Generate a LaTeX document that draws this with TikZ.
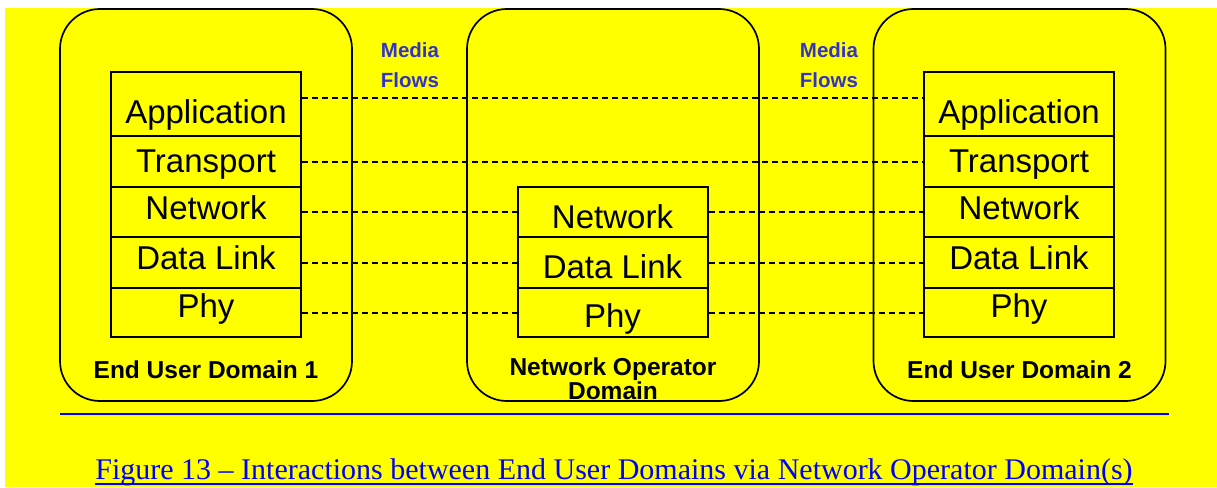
\documentclass[tikz,border=0pt]{standalone}
\usepackage{fontspec}
\setmainfont{Liberation Sans}
\newfontfamily\capfont{Liberation Serif}
\usepackage{xcolor}
\usetikzlibrary{positioning}
\definecolor{flowblue}{RGB}{51,51,204}
\definecolor{bgyellow}{RGB}{255,255,0}

\begin{document}
\begin{tikzpicture}[x=1pt,y=-1pt,
        domainbox/.style={draw, line width=1.7pt, rounded corners=40pt, minimum width=292pt, minimum height=392pt, inner sep=0pt},
        layerbox/.style={draw, line width=2pt, minimum width=190pt, inner sep=0pt, text depth=0pt, font=\fontsize{33}{38}\selectfont},
        flowline/.style={line width=2pt, dash pattern=on 6pt off 4pt},
        dlabel/.style={font=\bfseries\fontsize{24.5}{20}\selectfont, align=center, inner sep=0pt},
        mlabel/.style={text=flowblue, font=\bfseries\fontsize{20.5}{30}\selectfont, align=center, inner sep=0pt}]
        \useasboundingbox (0,0) rectangle (1217,487);
        \fill[bgyellow] (5,8) rectangle (1217,487);
        \foreach \x/\s in {206/1,613/0,1019.5/2}{\node[domainbox] (dom\s) at (\x,205) {};}
        \foreach \x/\s in {206/1,1019/2}{
            \foreach \y/\h/\th/\lay/\nm in {104/64/38/Application/a,161.5/51/21/Transport/t,212/50/14/Network/n,262.5/51/13/Data Link/d,312.5/49/9/Phy/p}
                {\node[layerbox, minimum height=\h pt, text height=\th pt] (\nm\s) at (\x,\y) {\lay};}
        }
        \foreach \y/\h/\th/\lay/\nm in {212/50/32/Network/n,262.5/51/31/Data Link/d,312.5/49/29/Phy/p}
            {\node[layerbox, minimum height=\h pt, text height=\th pt] (\nm0) at (612.5,\y) {\lay};}
       \draw[flowline] ([yshift=6pt]a1.east) -- ([yshift=6pt]a2.west);
       \draw[flowline] (t1.east) -- (t2.west);
       \foreach \nm in {n,d,p}{
           \draw[flowline] (\nm1.east) -- (\nm0.west);
           \draw[flowline] (\nm0.east) -- (\nm2.west);
       }
       \node[mlabel] (media1) at (410,65.5) {Media\\Flows};
       \node[mlabel] (media2) at (829,65.5) {Media\\Flows};
       \node[dlabel, anchor=base] (lbl1) at (206,378) {End User Domain 1};
       \node[dlabel] (lbl0) at (613,378.5) {Network Operator\\Domain};
       \node[dlabel, anchor=base] (lbl2) at (1019.5,378) {End User Domain 2};
       \draw[blue, line width=2pt] (60,414) -- (1169,414);
       \node[text=blue, font=\capfont\fontsize{30}{36}\selectfont, anchor=base, inner sep=0pt] (caption) at (614,479) {Figure 13 – Interactions between End User Domains via Network Operator Domain(s)};
       \draw[blue, line width=1.3pt] ([yshift=-5pt]caption.base west) -- ([yshift=-5pt]caption.base east);
    \end{tikzpicture}
\end{document}
